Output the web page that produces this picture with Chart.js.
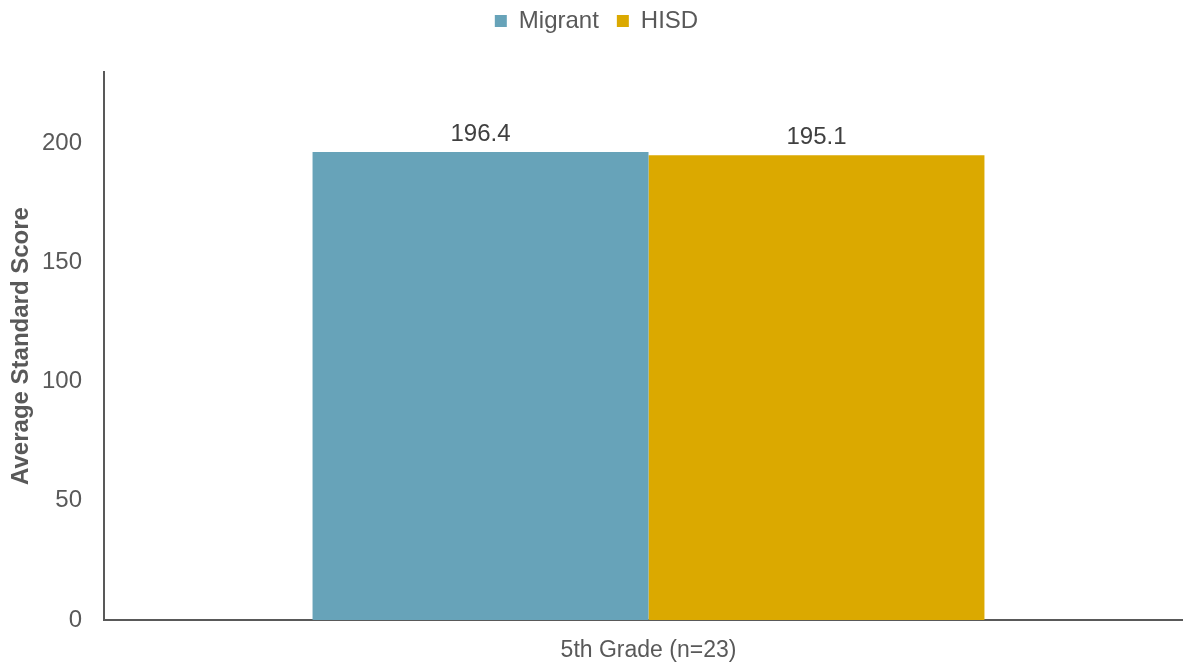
<!DOCTYPE html>
<html><head><meta charset="utf-8">
<script src="https://cdn.jsdelivr.net/npm/chart.js@4"></script>
<style>html,body{margin:0;padding:0;background:#fff;overflow:hidden}#wrap{width:1193px;height:663px}</style>
</head><body><div id="wrap"><canvas id="c"></canvas></div>
<script>
const categories = ["5th Grade (n=23)"];
const seriesNames = ["Migrant", "HISD"];
const migrantValues = [196.4];
const hisdValues = [195.1];
const yTicks = [0, 50, 100, 150, 200];
const yMax = 230;

const TXT = '#595959';
const FONT = "'Liberation Sans', Arial, sans-serif";

const labelPlugin = {
  id: 'vlabels',
  afterDatasetsDraw(chart) {
    const ctx = chart.ctx;
    ctx.save();
    ctx.font = '24px ' + FONT;
    ctx.fillStyle = '#404040';
    ctx.textAlign = 'center';
    ctx.textBaseline = 'bottom';
    chart.data.datasets.forEach((ds, i) => {
      chart.getDatasetMeta(i).data.forEach((el, j) => {
        ctx.fillText(ds.data[j].toFixed(1), el.x, el.y - 6);
      });
    });
    ctx.restore();
  }
};

const legendSpace = {
  id: 'legendSpace',
  afterInit(chart) {
    const lg = chart.legend;
    if (!lg) return;
    const orig = lg.fit;
    lg.fit = function () { orig.call(this); this.height = 81; };
  }
};

new Chart(document.getElementById('c'), {
  type: 'bar',
  data: {
    labels: categories,
    datasets: [
      { label: seriesNames[0], data: migrantValues, backgroundColor: '#67A3B9' },
      { label: seriesNames[1], data: hisdValues, backgroundColor: '#DBA900' }
    ]
  },
  options: {
    responsive: true,
    maintainAspectRatio: false,
    animation: false,
    layout: { padding: { top: -9, right: 0, bottom: 0, left: 0 } },
    datasets: { bar: { categoryPercentage: 0.617, barPercentage: 1.0 } },
    plugins: {
      legend: {
        position: 'top',
        labels: { boxWidth: 12, boxHeight: 12, color: TXT, font: { size: 24, family: FONT }, padding: 18 }
      },
      tooltip: { enabled: false }
    },
    scales: {
      x: {
        grid: { display: false, drawTicks: false },
        border: { color: TXT, width: 2 },
        ticks: { color: TXT, font: { size: 23, family: FONT }, padding: 17 },
        afterFit(s) { s.height = 43; }
      },
      y: {
        min: 0, max: yMax,
        grid: { display: false, drawTicks: false },
        border: { color: TXT, width: 2 },
        ticks: { color: TXT, font: { size: 24, family: FONT }, padding: 22, stepSize: 50 },
        afterBuildTicks(s) { s.ticks = yTicks.map(v => ({ value: v })); },
        afterFit(s) { s.width = 104; },
        title: { display: true, text: 'Average Standard Score', color: TXT, font: { size: 24, weight: 'bold', family: FONT }, padding: { top: 7, bottom: 0 } }
      }
    }
  },
  plugins: [labelPlugin, legendSpace]
});
</script></body></html>
